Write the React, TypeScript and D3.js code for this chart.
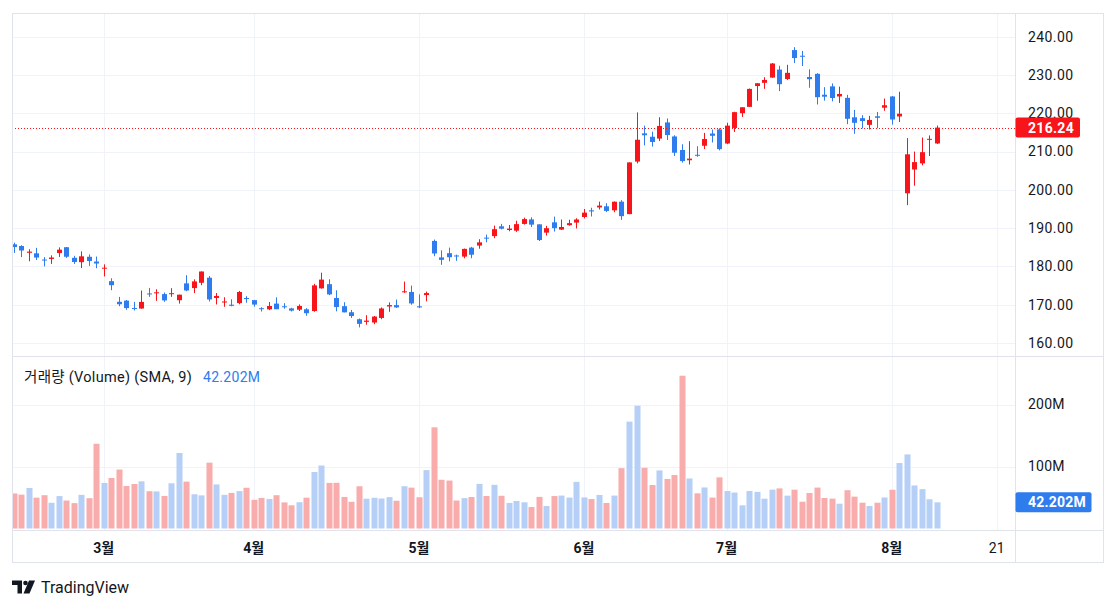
import React from 'react';
import * as d3 from 'd3';

// AAPL daily, 2024-02-13 .. 2024-08-09
const dates = [
  '02-13','02-14','02-15','02-16','02-20','02-21','02-22','02-23','02-26','02-27','02-28','02-29',
  '03-01','03-04','03-05','03-06','03-07','03-08','03-11','03-12','03-13','03-14','03-15','03-18','03-19','03-20','03-21','03-22','03-25','03-26','03-27','03-28',
  '04-01','04-02','04-03','04-04','04-05','04-08','04-09','04-10','04-11','04-12','04-15','04-16','04-17','04-18','04-19','04-22','04-23','04-24','04-25','04-26','04-29','04-30',
  '05-01','05-02','05-03','05-06','05-07','05-08','05-09','05-10','05-13','05-14','05-15','05-16','05-17','05-20','05-21','05-22','05-23','05-24','05-28','05-29','05-30','05-31',
  '06-03','06-04','06-05','06-06','06-07','06-10','06-11','06-12','06-13','06-14','06-17','06-18','06-20','06-21','06-24','06-25','06-26','06-27','06-28',
  '07-01','07-02','07-03','07-05','07-08','07-09','07-10','07-11','07-12','07-15','07-16','07-17','07-18','07-19','07-22','07-23','07-24','07-25','07-26','07-29','07-30','07-31',
  '08-01','08-02','08-05','08-06','08-07','08-08','08-09'
];
const openP = [
  185.77,185.32,183.55,183.42,181.79,181.94,183.48,185.01,182.24,181.10,182.51,181.27,
  179.55,176.15,170.76,171.06,169.15,169.00,172.94,173.15,172.77,172.91,171.17,175.57,174.34,175.72,177.05,171.76,170.57,170.00,170.41,171.75,
  171.19,169.08,168.79,170.29,169.59,169.03,168.70,168.80,168.34,174.26,175.36,171.75,169.61,168.03,166.21,165.52,165.35,166.54,169.53,169.88,173.37,173.33,
  169.58,172.51,186.65,182.35,183.45,182.85,182.56,184.90,185.44,187.51,187.91,190.47,189.51,189.33,191.09,192.27,190.98,188.82,191.51,189.61,190.76,191.44,
  192.90,194.64,195.40,195.69,194.65,196.90,193.65,207.37,214.74,213.85,213.37,217.59,213.93,210.39,207.72,209.15,211.50,214.69,215.77,
  212.09,216.15,220.00,221.65,227.09,227.93,229.30,231.39,228.92,236.48,235.00,229.45,230.28,224.82,227.01,224.37,224.00,218.93,218.70,216.96,219.19,221.44,
  224.37,219.15,199.09,205.30,206.90,213.11,212.10
];
const highP = [
  186.21,185.53,184.49,184.85,182.43,182.89,184.96,185.04,182.76,183.92,183.12,182.57,
  180.53,176.90,172.04,171.24,170.73,173.70,174.38,174.03,173.19,174.31,172.62,177.71,176.61,178.67,177.49,173.05,171.94,171.42,173.60,172.23,
  171.25,169.34,170.68,171.92,170.39,169.20,170.08,169.09,175.46,178.36,176.63,173.76,170.65,168.64,166.40,167.26,167.05,169.30,170.61,171.34,176.03,174.99,
  172.71,173.42,187.00,184.20,184.90,183.07,184.66,185.09,187.10,188.30,190.65,191.10,190.81,191.92,192.73,192.82,191.00,190.58,193.00,192.25,192.18,192.57,
  194.99,195.32,196.90,196.50,196.94,197.30,207.16,220.20,216.75,215.17,218.95,218.63,214.24,211.89,212.70,211.38,214.86,215.74,216.07,
  217.51,220.38,221.55,226.45,227.85,229.40,233.08,232.39,232.64,237.23,236.27,231.46,230.44,226.80,227.78,226.94,224.80,220.85,219.49,219.30,220.33,223.82,
  224.48,225.60,213.50,209.99,213.64,214.20,216.78
];
const lowP = [
  183.51,182.44,181.35,181.67,180.00,180.66,182.46,182.23,180.65,179.56,180.13,179.53,
  177.38,173.79,169.62,168.68,168.49,168.94,172.05,171.01,170.76,172.05,170.29,173.52,173.03,175.09,170.84,170.06,169.45,169.58,170.11,170.51,
  169.48,168.23,168.58,168.82,168.95,168.24,168.35,167.11,168.16,174.21,172.50,168.27,168.00,166.55,164.08,164.77,164.92,166.21,168.15,169.18,173.10,170.00,
  169.11,170.89,182.66,180.42,181.32,181.45,182.11,182.13,184.62,186.29,187.37,189.66,189.18,189.01,190.92,190.27,186.63,188.04,189.10,189.51,190.63,189.91,
  192.52,193.03,194.87,194.17,194.14,192.15,193.63,206.90,211.60,211.30,212.72,213.00,208.85,207.11,206.59,208.61,210.64,212.35,210.30,
  211.92,215.10,219.03,221.65,223.25,226.37,229.25,225.77,228.68,233.09,232.33,226.64,222.27,223.28,223.09,222.68,217.13,214.62,216.01,215.75,216.12,220.63,
  217.02,217.71,196.00,201.07,206.39,208.83,211.97
];
const closeP = [
  185.04,184.15,183.86,182.31,181.56,182.32,184.37,182.52,181.16,182.63,181.42,180.75,
  179.66,175.10,170.12,169.12,169.00,170.73,172.75,173.23,171.13,173.00,172.62,173.72,176.08,178.67,171.37,172.28,170.85,169.71,173.31,171.48,
  170.03,168.84,169.65,168.82,169.58,168.45,169.67,167.78,175.04,176.55,172.69,169.38,168.00,167.04,165.00,165.84,166.90,169.02,169.89,169.30,173.50,170.33,
  169.30,173.03,183.38,181.71,182.40,182.74,184.57,183.05,186.28,187.43,189.72,189.84,189.87,191.04,192.35,190.90,186.88,189.98,189.99,190.29,191.29,192.25,
  194.03,194.35,195.87,194.48,196.89,193.12,207.15,213.07,214.24,212.49,216.67,214.29,209.68,207.49,208.14,209.07,213.25,214.10,210.62,
  216.75,220.27,221.55,226.34,227.82,228.68,232.98,227.57,230.54,234.40,234.82,228.88,224.18,224.31,223.96,225.01,218.54,217.49,217.96,218.24,218.80,222.08,
  218.36,219.86,209.27,207.23,209.82,213.31,216.24
];
// volume in millions
const volumeM = [
  56.5,54.6,65.4,49.7,53.7,41.5,52.3,45.1,40.9,54.3,48.9,136.7,
  73.5,81.5,95.1,68.6,71.8,76.1,60.1,59.8,52.5,72.9,121.8,75.6,55.2,53.4,106.2,71.1,54.3,57.4,60.3,65.7,
  46.2,49.3,47.7,53.7,42.1,37.4,42.4,49.7,91.1,101.6,73.5,73.7,50.9,43.1,68.1,48.1,49.5,48.3,50.6,44.8,68.2,65.9,
  50.4,94.2,163.2,78.6,77.3,45.1,49.0,50.8,72.0,52.4,70.4,52.8,41.3,44.4,42.3,34.6,51.0,36.3,52.3,53.1,49.9,75.2,
  50.1,47.5,54.1,41.2,53.1,97.3,172.4,198.1,97.9,70.1,93.7,79.9,86.2,246.4,80.7,56.7,66.2,49.8,82.5,
  60.4,58.0,37.4,60.4,59.1,48.1,62.6,64.7,53.0,62.6,43.2,57.3,66.0,49.2,48.2,40.0,61.8,51.4,41.6,36.3,41.6,50.0,
  62.5,105.6,119.5,69.4,63.5,47.2,42.2
];

const priceTicks = [160, 170, 180, 190, 200, 210, 220, 230, 240];
const volTicks = [100, 200];
const timeTickIndex = [12, 32, 54, 76, 95, 117, 131];
const timeTickLabels = ['3월', '4월', '5월', '6월', '7월', '8월', '21'];
const timeTickBold = [true, true, true, true, true, true, false];
const lastClose = 216.24;
const lastVolumeLabel = '42.202M';

const UP = '#F7141A';
const DOWN = '#2E7CEE';
const VOL_UP = '#B6CFF6';
const VOL_DOWN = '#F8ACAC';
const GRID = '#F0F3FA';
const BORDER = '#E0E3EB';
const TEXT = '#131722';
const FONT = "Roboto, 'Noto Sans CJK KR', 'DejaVu Sans', sans-serif";

export default function App() {
  const L = 12, R = 1015.5, RR = 1104;
  const pTop = 13, pBot = 356.5, vTop = 357, vBot = 530, tBot = 563;

  const x = d3.scaleLinear().domain([0, 123]).range([13.6, 936.7]);
  const y = d3.scaleLinear().domain([160, 240]).range([343, 36.6]);
  const yv = d3.scaleLinear().domain([0, 200]).range([528.5, 404.5]);

  const candleW = 5;
  const volW = 6;

  return (
    <svg width={1118} height={609} style={{ position: 'absolute', left: 0, top: 0, background: '#fff' }} fontFamily={FONT}>
      <defs>
        <clipPath id="pclip"><rect x={L} y={pTop} width={R - L} height={pBot - pTop} /></clipPath>
        <clipPath id="vclip"><rect x={L} y={vTop} width={R - L} height={vBot - vTop} /></clipPath>
      </defs>
      <rect x={0} y={0} width={1118} height={609} fill="#fff" />

      {/* grid */}
      {priceTicks.map((t) => (
        <line key={'pg' + t} x1={L} x2={R} y1={Math.round(y(t)) + 0.5} y2={Math.round(y(t)) + 0.5} stroke={GRID} />
      ))}
      {volTicks.map((t) => (
        <line key={'vg' + t} x1={L} x2={R} y1={Math.round(yv(t)) + 0.5} y2={Math.round(yv(t)) + 0.5} stroke={GRID} />
      ))}
      {timeTickIndex.map((i) => (
        <g key={'tg' + i}>
          <line x1={Math.round(x(i)) + 0.5} x2={Math.round(x(i)) + 0.5} y1={pTop} y2={pBot} stroke={GRID} />
          <line x1={Math.round(x(i)) + 0.5} x2={Math.round(x(i)) + 0.5} y1={vTop} y2={vBot} stroke={GRID} />
        </g>
      ))}

      {/* candles */}
      <g clipPath="url(#pclip)">
        {dates.map((d, i) => {
          const o = openP[i], c = closeP[i], h = highP[i], l = lowP[i];
          const up = c >= o;
          const col = up ? UP : DOWN;
          const cx = Math.round(x(i));
          const top = y(Math.max(o, c));
          const bot = y(Math.min(o, c));
          return (
            <g key={d}>
              <rect x={cx} y={y(h)} width={1} height={Math.max(1, y(l) - y(h))} fill={col} />
              <rect x={cx - 2} y={top} width={candleW} height={Math.max(1, bot - top)} fill={col} />
            </g>
          );
        })}
        <line x1={L} x2={R} y1={Math.round(y(lastClose)) + 0.5} y2={Math.round(y(lastClose)) + 0.5}
          stroke={UP} strokeWidth={1} strokeDasharray="1 2" />
      </g>

      {/* volume */}
      <g clipPath="url(#vclip)">
        {dates.map((d, i) => {
          const up = closeP[i] >= openP[i];
          const cx = Math.round(x(i));
          return (
            <rect key={'v' + d} x={cx - 2.5} y={yv(volumeM[i])} width={volW} height={yv(0) - yv(volumeM[i])}
              fill={up ? VOL_UP : VOL_DOWN} />
          );
        })}
      </g>

      {/* frame */}
      <rect x={L + 0.5} y={pTop + 0.5} width={RR - L - 1} height={tBot - pTop - 1} fill="none" stroke={BORDER} />
      <line x1={R} x2={R} y1={pTop} y2={tBot} stroke={BORDER} />
      <line x1={L} x2={RR} y1={pBot} y2={pBot} stroke={BORDER} />
      <line x1={L} x2={RR} y1={vBot + 0.5} y2={vBot + 0.5} stroke={BORDER} />

      {/* price axis labels */}
      {priceTicks.map((t) => (
        <text key={'pl' + t} x={1028} y={y(t)} dy="0.35em" fontSize={14} letterSpacing={0.4} fill={TEXT}>{t.toFixed(2)}</text>
      ))}
      {volTicks.map((t) => (
        <text key={'vl' + t} x={1028} y={yv(t)} dy="0.35em" fontSize={14} letterSpacing={0.2} fill={TEXT}>{t + 'M'}</text>
      ))}

      {/* last price label */}
      <rect x={R} y={y(lastClose) - 10} width={64.5} height={20} rx={2} fill={UP} />
      <text x={1028} y={y(lastClose)} dy="0.35em" fontSize={14} fontWeight={700} letterSpacing={0.3} fill="#fff">{lastClose.toFixed(2)}</text>

      {/* last volume label */}
      <rect x={R} y={yv(42.202) - 10} width={76} height={20} rx={2} fill={DOWN} />
      <text x={1028} y={yv(42.202)} dy="0.35em" fontSize={14} fontWeight={700} letterSpacing={0.2} fill="#fff">{lastVolumeLabel}</text>

      {/* time axis */}
      {timeTickIndex.map((i, k) => (
        <text key={'tl' + i} x={x(i)} y={548} dy="0.35em" textAnchor="middle" fontSize={14}
          fontWeight={timeTickBold[k] ? 700 : 400} fill={TEXT}>{timeTickLabels[k]}</text>
      ))}

      {/* legend */}
      <text x={24} y={377} dy="0.35em" fontSize={14.5} letterSpacing={0.3} fill={TEXT}>거래량 (Volume) (SMA, 9)</text>
      <text x={203} y={377} dy="0.35em" fontSize={14} letterSpacing={0.3} fill={DOWN}>{lastVolumeLabel}</text>

      {/* TradingView logo */}
      <g fill={TEXT}>
        <path d="M12 580.5 H22 V593.5 H17.5 V585 H12 Z" />
        <circle cx={25.5} cy={583} r={2.3} />
        <path d="M29 580.5 H35 L29.5 593.5 H23.5 Z" />
        <text x={41} y={587} dy="0.35em" fontSize={16} fill={TEXT}>TradingView</text>
      </g>
    </svg>
  );
}
